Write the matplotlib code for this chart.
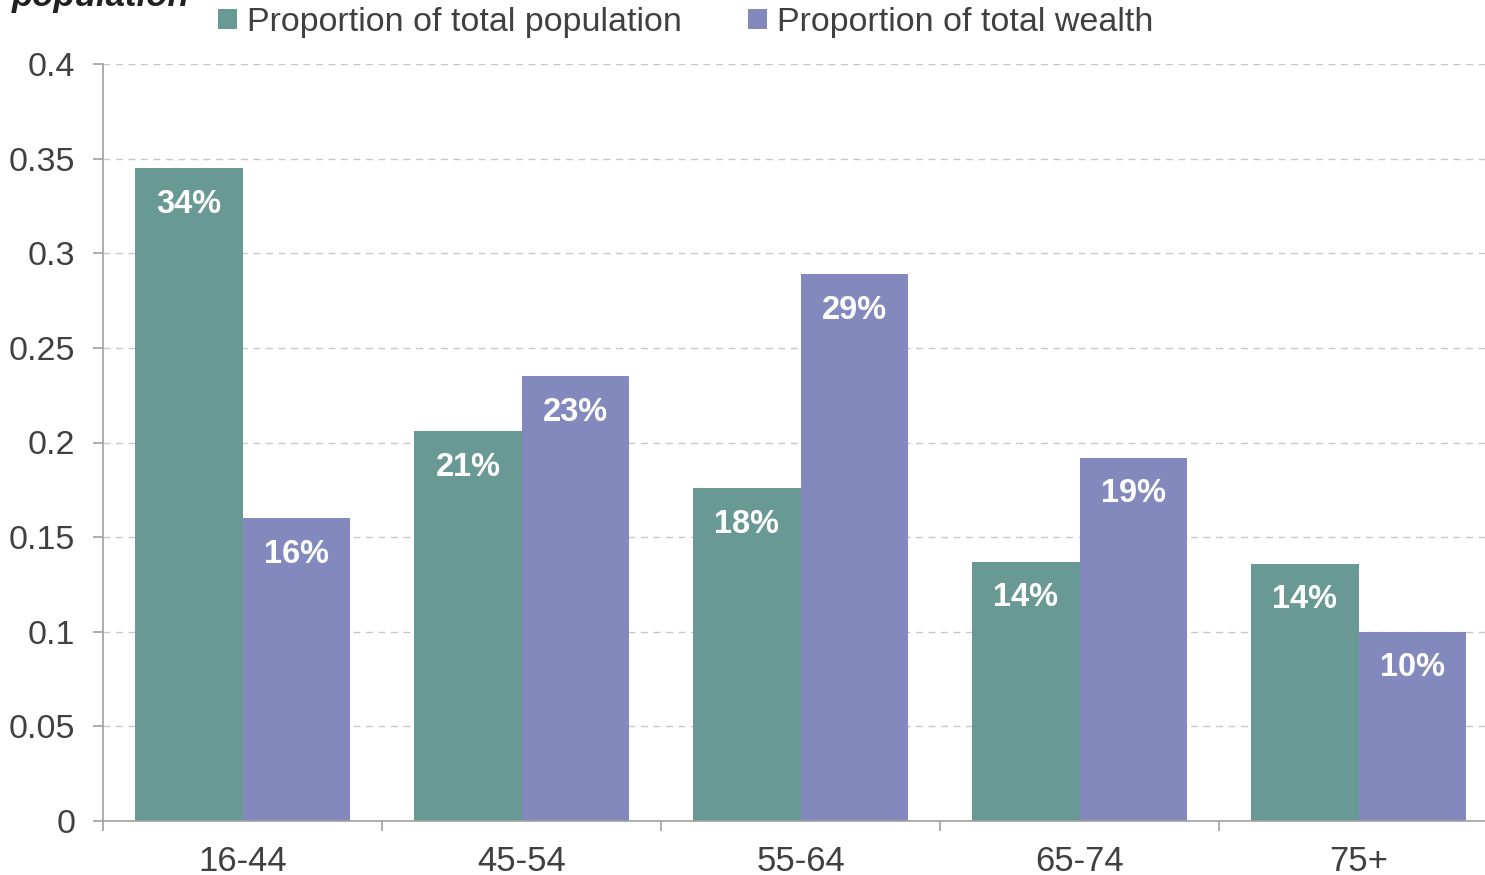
import matplotlib

matplotlib.use("Agg")

import matplotlib.pyplot as plt
import numpy as np

plt.rcParams["font.family"] = ["Liberation Sans", "DejaVu Sans"]

age_groups = ["16-44", "45-54", "55-64", "65-74", "75+"]
population_share = [0.345, 0.206, 0.176, 0.137, 0.136]
wealth_share = [0.160, 0.235, 0.289, 0.192, 0.100]
population_labels = ["34%", "21%", "18%", "14%", "14%"]
wealth_labels = ["16%", "23%", "29%", "19%", "10%"]
yticks = [0, 0.05, 0.1, 0.15, 0.2, 0.25, 0.3, 0.35, 0.4]
ytick_labels = ["0", "0.05", "0.1", "0.15", "0.2", "0.25", "0.3", "0.35", "0.4"]

green = "#689995"
purple = "#8489bd"
text_col = "#404040"
axis_col = "#a0a0a0"

fig = plt.figure(figsize=(14.85, 8.75), dpi=100)
ax = fig.add_axes([103 / 1485, 54 / 875, 1395 / 1485, 757 / 875])

x = np.arange(len(age_groups))
w = 0.384
b1 = ax.bar(x - w / 2, population_share, w, color=green, label="Proportion of total population")
b2 = ax.bar(x + w / 2, wealth_share, w, color=purple, label="Proportion of total wealth")

for bars, labels in ((b1, population_labels), (b2, wealth_labels)):
    for rect, lab in zip(bars, labels):
        ax.annotate(lab, (rect.get_x() + rect.get_width() / 2, rect.get_height()),
                    xytext=(0, -26), textcoords="offset points", ha="center", va="center",
                    color="white", fontsize=23.5, fontweight="bold")

ax.set_xlim(-0.5, 4.5)
ax.set_ylim(0, 0.4)
ax.set_yticks(yticks)
ax.set_yticklabels(ytick_labels)
ax.set_xticks(x)
ax.set_xticklabels(age_groups)
ax.set_xticks(np.arange(-0.5, 5.0, 1.0), minor=True)
ax.tick_params(axis="x", which="major", length=0, pad=17, labelsize=25, labelcolor=text_col)
ax.tick_params(axis="x", which="minor", length=7, width=1.2, color=axis_col, direction="out")
ax.tick_params(axis="y", length=7, width=1.2, color=axis_col, pad=13, labelsize=24.5, labelcolor=text_col)

ax.grid(axis="y", linestyle=(0, (5, 4)), color="#c8c8c8", linewidth=1)
ax.set_axisbelow(True)
for s in ("top", "right"):
    ax.spines[s].set_visible(False)
for s in ("left", "bottom"):
    ax.spines[s].set_color(axis_col)
    ax.spines[s].set_linewidth(1.2)

fig.legend(loc="center", bbox_to_anchor=(0.462, 0.974), ncol=2, frameon=False,
           fontsize=24.5, handlelength=0.55, handleheight=0.55, handletextpad=0.3,
           columnspacing=1.95, labelcolor=text_col)

# title cut off at the top of the original
fig.text(0.008, 0.9935, "population", fontsize=25, style="italic", fontweight="bold",
         color="#202020", ha="left", va="baseline")

fig.savefig("out.png", dpi=100)
plt.close(fig)
